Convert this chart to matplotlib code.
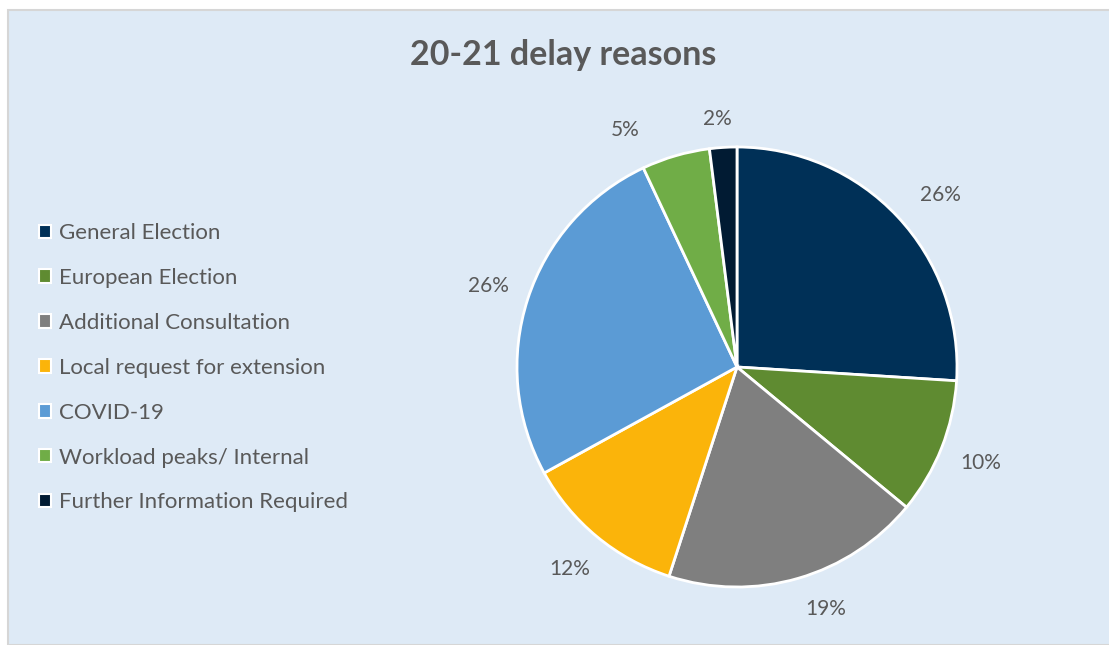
import numpy as np
import matplotlib.pyplot as plt
from matplotlib.patches import Patch, Rectangle

plt.rcParams['font.family'] = ['Lato', 'DejaVu Sans']

reasons = ['General Election', 'European Election', 'Additional Consultation',
           'Local request for extension', 'COVID-19', 'Workload peaks/ Internal',
           'Further Information Required']
shares = [26, 10, 19, 12, 26, 5, 2]
colours = ['#003057', '#5F8B31', '#7F7F7F', '#FBB40A', '#5B9BD5', '#70AD47', '#011B33']

text_grey = '#595959'

fig = plt.figure(figsize=(11.09, 6.45), dpi=100)
fig.patch.set_facecolor('white')

# chart area panel, kept behind the axes
fig.patches.append(Rectangle((8 / 1109, 0), 1.0, 1 - 10 / 645, transform=fig.transFigure,
                             facecolor='#DEEAF6', edgecolor='#D6D6D6', linewidth=1.5, zorder=-5))

# axes box sized so the pie (radius 1 inside +-1.25 limits) sits at the right spot
R = 220
cx, cy = 737, 367
box = 1.25 * R
ax = fig.add_axes([(cx - box) / 1109, 1 - (cy + box) / 645, 2 * box / 1109, 2 * box / 645])
ax.set_facecolor('none')

wedges, texts, autotexts = ax.pie(
    shares, colors=colours, startangle=90, counterclock=False,
    autopct='%1.0f%%', pctdistance=1.19,
    wedgeprops=dict(edgecolor='white', linewidth=2),
    textprops=dict(color=text_grey, fontsize=15))
ax.set_xlim(-1.25, 1.25)
ax.set_ylim(-1.25, 1.25)
ax.set_aspect('equal')

# per-label (angle shift in degrees, distance) tweaks
nudges = {0: (-3, 1.21), 2: (4, 1.17), 5: (9, 1.19), 6: (1, 1.13)}
for i, (dang, dist) in nudges.items():
    w = wedges[i]
    mid = np.deg2rad((w.theta1 + w.theta2) / 2 + dang)
    autotexts[i].set_position((dist * np.cos(mid), dist * np.sin(mid)))

fig.text(563 / 1109, 1 - 55 / 645, '20-21 delay reasons', ha='center', va='center',
         fontsize=24.5, fontweight='bold', color=text_grey)

handles = [Patch(facecolor=c, edgecolor='white', linewidth=1.5) for c in colours]
leg = fig.legend(handles, reasons, loc='upper left', bbox_to_anchor=(28 / 1109, 1 - 212 / 645),
                 frameon=False, fontsize=16, handlelength=0.55, handleheight=0.55,
                 handletextpad=0.35, labelspacing=1.12, borderpad=0)
for t in leg.get_texts():
    t.set_color(text_grey)

fig.savefig('out.png', dpi=100, facecolor=fig.get_facecolor())
